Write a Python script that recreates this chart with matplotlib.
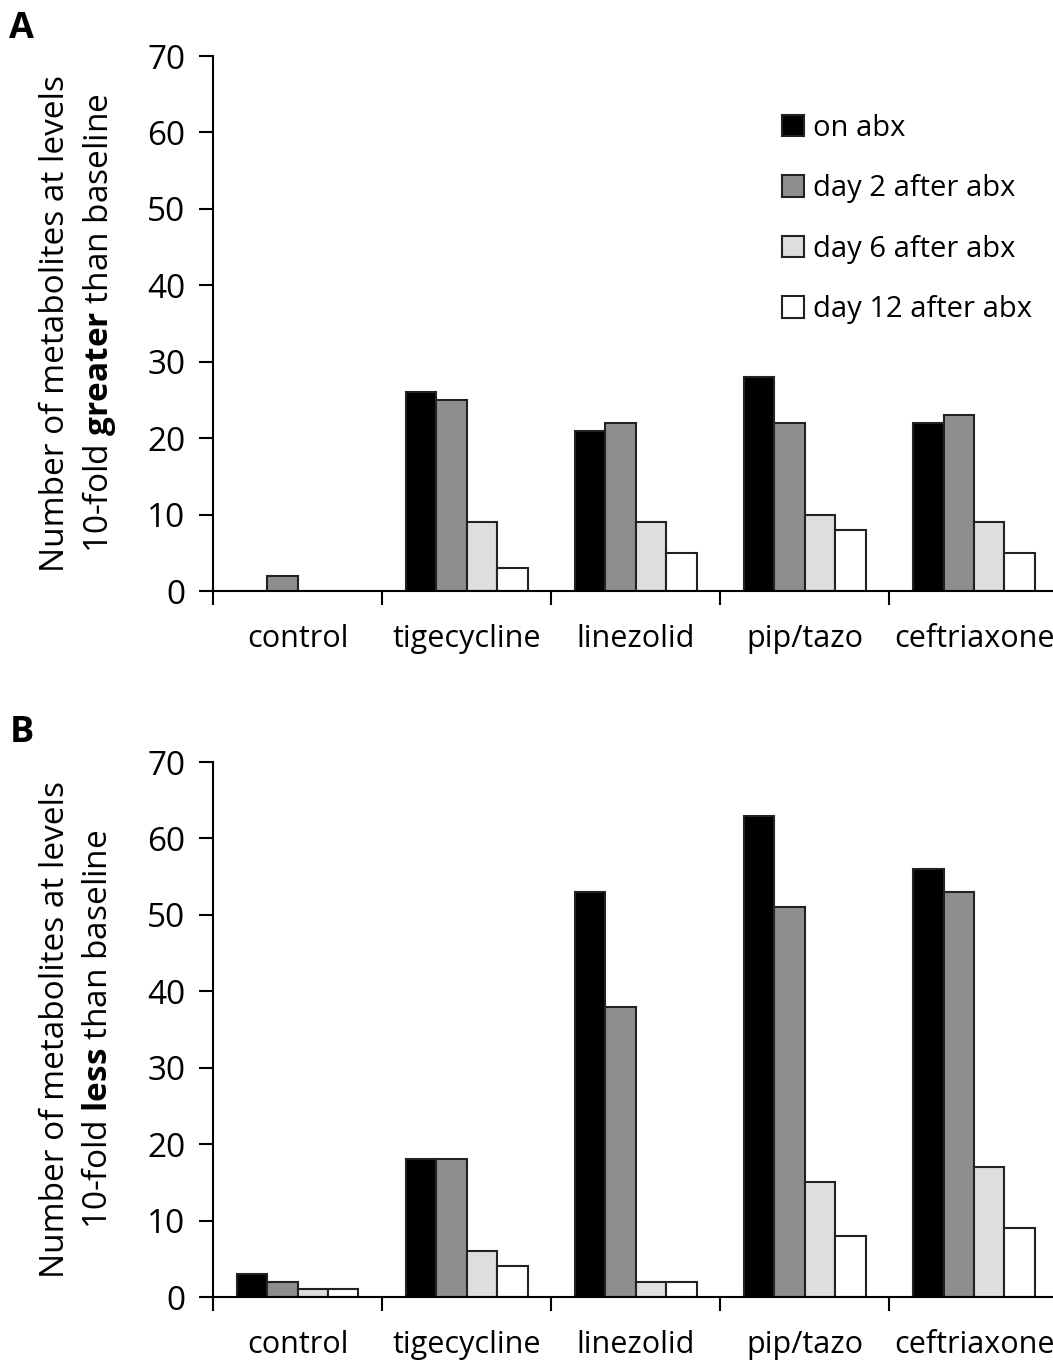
import numpy as np
import matplotlib.pyplot as plt

plt.rcParams['font.family'] = ['Open Sans', 'DejaVu Sans']
plt.rcParams['mathtext.fontset'] = 'custom'
plt.rcParams['mathtext.rm'] = 'Open Sans'
plt.rcParams['mathtext.bf'] = 'Open Sans:bold'

categories = ['control', 'tigecycline', 'linezolid', 'pip/tazo', 'ceftriaxone']
series = ['on abx', 'day 2 after abx', 'day 6 after abx', 'day 12 after abx']
colors = ['#000000', '#8e8e8e', '#dedede', '#ffffff']

# panel A: 10-fold greater than baseline
greater = [
    [0, 26, 21, 28, 22],
    [2, 25, 22, 22, 23],
    [0, 9, 9, 10, 9],
    [0, 3, 5, 8, 5],
]
# panel B: 10-fold less than baseline
less = [
    [3, 18, 53, 63, 56],
    [2, 18, 38, 51, 53],
    [1, 6, 2, 15, 17],
    [1, 4, 2, 8, 9],
]

fig = plt.figure(figsize=(10.53, 13.6), dpi=100)
ax_a = fig.add_axes([0.2023, 0.5654, 0.803, 0.3934])
ax_b = fig.add_axes([0.2023, 0.0463, 0.803, 0.3934])

x = np.arange(len(categories))
w = 0.18


def draw(ax, data, word, letter, ytop):
    for i, vals in enumerate(data):
        ax.bar(x + (i - 1.5) * w, vals, w, color=colors[i], edgecolor='#222222',
               linewidth=1.5, label=series[i], zorder=2)
    ax.set_xlim(-0.5, 4.5)
    ax.set_ylim(0, 70)
    ax.set_yticks(range(0, 71, 10))
    ax.set_xticks(np.arange(-0.5, 5, 1))
    ax.set_xticklabels([])
    ax.set_xticks(x, minor=True)
    ax.set_xticklabels(categories, minor=True)
    ax.tick_params(axis='x', which='minor', length=0, pad=24, labelsize=22)
    ax.tick_params(axis='x', which='major', direction='out', length=10, width=1.5)
    ax.tick_params(axis='y', direction='out', length=10, width=1.5, labelsize=24, pad=10)
    for s in ['top', 'right']:
        ax.spines[s].set_visible(False)
    ax.spines['left'].set_linewidth(1.5)
    ax.spines['bottom'].set_linewidth(1.5)
    ax.spines['bottom'].set_zorder(3)
    pos = ax.get_position()
    yc = (pos.y0 + pos.y1) / 2
    fig.text(0.053, yc, 'Number of metabolites at levels', rotation=90,
             ha='center', va='center', fontsize=24)
    fig.text(0.094, yc, r'10-fold $\mathbf{' + word + r'}$ than baseline', rotation=90,
             ha='center', va='center', fontsize=24)
    fig.text(0.009, ytop, letter, fontsize=26, fontweight='bold', ha='left', va='top')


draw(ax_a, greater, 'greater', 'A', 0.992)
draw(ax_b, less, 'less', 'B', 0.474)

ax_a.legend(loc='upper left', bbox_to_anchor=(0.732, 0.925), bbox_transform=fig.transFigure,
            frameon=False, fontsize=21, handlelength=0.75, handleheight=0.75,
            handletextpad=0.3, labelspacing=1.08, borderaxespad=0)

fig.savefig('out.png', dpi=100)
